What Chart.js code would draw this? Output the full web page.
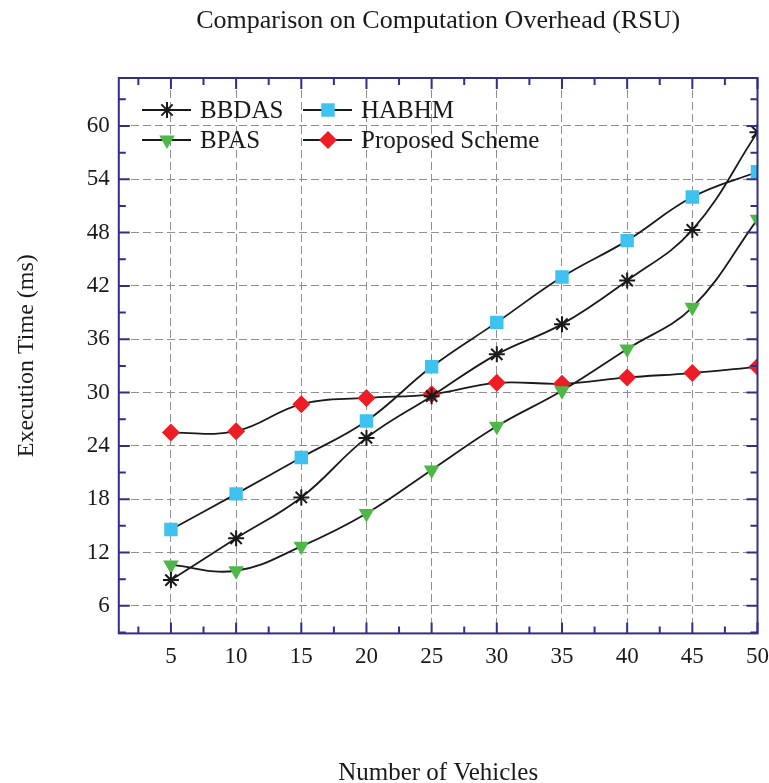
<!DOCTYPE html>
<html>
<head>
<meta charset="utf-8">
<script src="https://cdn.jsdelivr.net/npm/chart.js@4/dist/chart.umd.min.js"></script>
<style>
  html, body { margin: 0; padding: 0; background: #fff; }
  #wrap { width: 769px; height: 783px; }
</style>
</head>
<body>
<div id="wrap"><canvas id="myChart"></canvas></div>
<script>
// vehicles on x axis
const vehicles = [5, 10, 15, 20, 25, 30, 35, 40, 45, 50];
const yTicks = [6, 12, 18, 24, 30, 36, 42, 48, 54, 60];

// execution time (ms)
const bbdas    = [8.9, 13.6, 18.2, 24.9, 29.6, 34.3, 37.7, 42.6, 48.3, 59.3];
const habhm    = [14.6, 18.6, 22.7, 26.8, 32.9, 37.9, 43.0, 47.1, 52.0, 54.85];
const bpas     = [10.6, 9.95, 12.7, 16.4, 21.3, 26.2, 30.2, 34.9, 39.6, 49.5];
const proposed = [25.5, 25.65, 28.7, 29.4, 29.8, 31.1, 31.0, 31.7, 32.2, 32.9];

const chartTitle = 'Comparison on Computation Overhead (RSU)';

const axisColor = '#322f8c';
const serif = "'Liberation Serif', 'Times New Roman', serif";

function pts(arr) {
    return arr.map((v, i) => ({ x: vehicles[i], y: v }));
}

const ctx = document.getElementById('myChart');

// title centred over the plot area
const titlePlugin = {
    id: 'topTitle',
    afterDraw(chart) {
        const c = chart.ctx;
        const a = chart.chartArea;
        c.save();
        c.font = '26px ' + serif;
        c.fillStyle = '#1a1a1a';
        c.textAlign = 'center';
        c.textBaseline = 'middle';
        c.fillText(chartTitle, (a.left + a.right) / 2, 21);
        c.restore();
    }
};

// frame, inward ticks (major + minor) on all four sides
const framePlugin = {
    id: 'frame',
    afterDatasetsDraw(chart) {
        const c = chart.ctx;
        const a = chart.chartArea;
        const xs = chart.scales.x, ys = chart.scales.y;
        c.save();
        c.strokeStyle = axisColor;
        c.lineWidth = 2;
        c.strokeRect(a.left, a.top, a.right - a.left, a.bottom - a.top);
        c.beginPath();
        for (let v = 2.5; v <= 50; v += 2.5) {
            const px = xs.getPixelForValue(v);
            const len = (v % 5 === 0) ? 11 : 7;
            c.moveTo(px, a.bottom); c.lineTo(px, a.bottom - len);
            c.moveTo(px, a.top); c.lineTo(px, a.top + len);
        }
        for (let v = 3; v <= 63; v += 3) {
            const py = ys.getPixelForValue(v);
            const len = (v % 6 === 0) ? 11 : 7;
            c.moveTo(a.left, py); c.lineTo(a.left + len, py);
            c.moveTo(a.right, py); c.lineTo(a.right - len, py);
        }
        c.stroke();
        c.restore();
    }
};

// legend drawn inside the plot
const legendPlugin = {
    id: 'innerLegend',
    afterDatasetsDraw(chart) {
        const c = chart.ctx;
        const slots = [
            { x: 142, y: 110 }, { x: 303, y: 110 },
            { x: 142, y: 140 }, { x: 303, y: 140 }
        ];
        c.save();
        c.font = '25px ' + serif;
        c.textBaseline = 'middle';
        chart.data.datasets.forEach((ds, k) => {
            const s = slots[k];
            c.strokeStyle = '#1a1a1a';
            c.lineWidth = 2;
            c.beginPath();
            c.moveTo(s.x, s.y); c.lineTo(s.x + 49, s.y);
            c.stroke();
            c.fillStyle = ds.pointBackgroundColor;
            c.strokeStyle = ds.pointBorderColor;
            c.lineWidth = ds.pointBorderWidth;
            Chart.helpers.drawPoint(c, {
                pointStyle: ds.pointStyle,
                rotation: ds.pointRotation || 0,
                radius: ds.pointRadius,
                borderWidth: ds.pointBorderWidth
            }, s.x + 25, s.y);
            c.fillStyle = '#1a1a1a';
            c.fillText(ds.label, s.x + 58, s.y + 1);
        });
        c.restore();
    }
};

new Chart(ctx, {
    type: 'line',
    data: {
        datasets: [
            {
                label: 'BBDAS',
                data: pts(bbdas),
                borderColor: '#1a1a1a',
                borderWidth: 1.8,
                tension: 0.4,
                pointStyle: 'star',
                pointRadius: 8,
                pointBorderWidth: 2,
                pointBackgroundColor: '#1a1a1a',
                pointBorderColor: '#1a1a1a'
            },
            {
                label: 'HABHM',
                data: pts(habhm),
                borderColor: '#1a1a1a',
                borderWidth: 1.8,
                tension: 0.4,
                pointStyle: 'rect',
                pointRadius: 9.5,
                pointBorderWidth: 0,
                pointBackgroundColor: '#3ec3f0',
                pointBorderColor: '#3ec3f0'
            },
            {
                label: 'BPAS',
                data: pts(bpas),
                borderColor: '#1a1a1a',
                borderWidth: 1.8,
                tension: 0.4,
                pointStyle: 'triangle',
                pointRotation: 180,
                pointRadius: 9,
                pointBorderWidth: 0,
                pointBackgroundColor: '#4db848',
                pointBorderColor: '#4db848'
            },
            {
                label: 'Proposed Scheme',
                data: pts(proposed),
                borderColor: '#1a1a1a',
                borderWidth: 1.8,
                tension: 0.4,
                pointStyle: 'rectRot',
                pointRadius: 9,
                pointBorderWidth: 0,
                pointBackgroundColor: '#ee1c24',
                pointBorderColor: '#ee1c24'
            }
        ]
    },
    options: {
        responsive: true,
        maintainAspectRatio: false,
        animation: false,
        layout: { padding: { left: 4, right: 0, top: 78, bottom: -5 } },
        plugins: {
            legend: { display: false },
            tooltip: { enabled: false },
            title: { display: false }
        },
        scales: {
            x: {
                type: 'linear',
                min: 1,
                max: 50,
                afterBuildTicks: axis => { axis.ticks = vehicles.map(v => ({ value: v })); },
                grid: { color: '#909090', lineWidth: 1, drawTicks: true, tickLength: 10, tickColor: 'rgba(0,0,0,0)' },
                border: { display: false, dash: [8, 4] },
                ticks: {
                    color: '#1a1a1a',
                    font: { family: serif, size: 23 },
                    padding: 0,
                    maxRotation: 0
                },
                title: {
                    display: true,
                    text: 'Number of Vehicles',
                    color: '#1a1a1a',
                    font: { family: serif, size: 25 },
                    padding: { top: 87, bottom: 0 }
                }
            },
            y: {
                min: 2.9,
                max: 65.4,
                afterBuildTicks: axis => { axis.ticks = yTicks.map(v => ({ value: v })); },
                grid: { color: '#909090', lineWidth: 1, drawTicks: false },
                border: { display: false, dash: [8, 4] },
                ticks: {
                    color: '#1a1a1a',
                    font: { family: serif, size: 23 },
                    padding: 9
                },
                title: {
                    display: true,
                    text: 'Execution Time (ms)',
                    color: '#1a1a1a',
                    font: { family: serif, size: 24 },
                    padding: { top: 8, bottom: 37 }
                }
            }
        }
    },
    plugins: [framePlugin, legendPlugin, titlePlugin]
});
</script>
</body>
</html>
